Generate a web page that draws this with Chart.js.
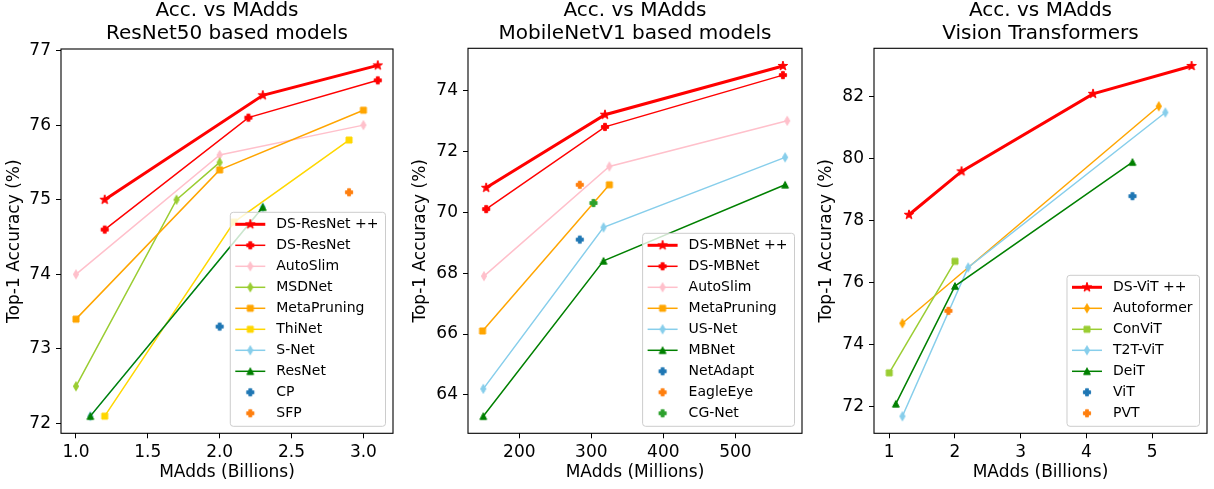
<!DOCTYPE html>
<html>
<head>
<meta charset="utf-8">
<title>Acc. vs MAdds</title>
<script src="https://cdn.jsdelivr.net/npm/chart.js"></script>
<style>
  body { margin: 0; background: #fff; }
  .panel { position: absolute; top: 0; height: 489px; }
  canvas { display: block; }
</style>
</head>
<body>
<div class="panel" style="left:0px"><canvas id="c1" width="400" height="489"></canvas></div>
<div class="panel" style="left:400px"><canvas id="c2" width="410" height="489"></canvas></div>
<div class="panel" style="left:810px"><canvas id="c3" width="404" height="489"></canvas></div>
<script>
// ResNet50 panel
const r50Labels = ['DS-ResNet ++', 'DS-ResNet', 'AutoSlim', 'MSDNet', 'MetaPruning', 'ThiNet', 'S-Net', 'ResNet', 'CP', 'SFP'];
const r50X = [[1.2, 2.3, 3.1], [1.2, 2.2, 3.1], [1.0, 2.0, 3.0], [1.0, 1.7, 2.0], [1.0, 2.0, 3.0],
              [1.2, 2.1, 2.9], [1.1, 2.3], [1.1, 2.3], [2.0], [2.9]];
const r50Y = [[75.0, 76.4, 76.8], [74.6, 76.1, 76.6], [74.0, 75.6, 76.0], [72.5, 75.0, 75.5], [73.4, 75.4, 76.2],
              [72.1, 74.7, 75.8], [72.1, 74.9], [72.1, 74.9], [73.3], [75.1]];
const r50XTicks = [1.0, 1.5, 2.0, 2.5, 3.0];
const r50YTicks = [72, 73, 74, 75, 76, 77];

// MobileNetV1 panel
const mbLabels = ['DS-MBNet ++', 'DS-MBNet', 'AutoSlim', 'MetaPruning', 'US-Net', 'MBNet', 'NetAdapt', 'EagleEye', 'CG-Net'];
const mbX = [[154, 319, 566], [154, 319, 566], [151, 325, 572], [149, 325], [150, 317, 569], [150, 317, 569], [284], [284], [303]];
const mbY = [[70.8, 73.2, 74.8], [70.1, 72.8, 74.5], [67.9, 71.5, 73.0], [66.1, 70.9], [64.2, 69.5, 71.8],
             [63.3, 68.4, 70.9], [69.1], [70.9], [70.3]];
const mbXTicks = [200, 300, 400, 500];
const mbYTicks = [64, 66, 68, 70, 72, 74];

// Vision Transformers panel
const vitLabels = ['DS-ViT ++', 'Autoformer', 'ConViT', 'T2T-ViT', 'DeiT', 'ViT', 'PVT'];
const vitX = [[1.3, 2.1, 4.1, 5.6], [1.2, 5.1], [1.0, 2.0], [1.2, 2.2, 5.2], [1.1, 2.0, 4.7], [4.7], [1.9]];
const vitY = [[78.2, 79.6, 82.1, 83.0], [74.7, 81.7], [73.1, 76.7], [71.7, 76.5, 81.5], [72.1, 75.9, 79.9], [78.8], [75.1]];
const vitXTicks = [1, 2, 3, 4, 5];
const vitYTicks = [72, 74, 76, 78, 80, 82];

// styles
const r50Colors = ['red', 'red', 'pink', 'yellowgreen', 'orange', 'gold', 'skyblue', 'green', '#1f77b4', '#ff7f0e'];
const r50Shapes = ['star', 'plus', 'thin', 'thin', 'square', 'square', 'thin', 'tri', 'plus', 'plus'];
const r50Widths = [3, 1.5, 1.5, 1.5, 1.5, 1.5, 1.5, 1.5, 0, 0];
const mbColors = ['red', 'red', 'pink', 'orange', 'skyblue', 'green', '#1f77b4', '#ff7f0e', '#2ca02c'];
const mbShapes = ['star', 'plus', 'thin', 'square', 'thin', 'tri', 'plus', 'plus', 'plus'];
const mbWidths = [3, 1.5, 1.5, 1.5, 1.5, 1.5, 0, 0, 0];
const vitColors = ['red', 'orange', 'yellowgreen', 'skyblue', 'green', '#1f77b4', '#ff7f0e'];
const vitShapes = ['star', 'thin', 'square', 'thin', 'tri', 'plus', 'plus'];
const vitWidths = [3, 1.5, 1.5, 1.5, 1.5, 0, 0];

Chart.defaults.font.family = '"DejaVu Sans", sans-serif';
Chart.defaults.color = '#000';

function makeMarker(shape, color) {
  const c = document.createElement('canvas');
  c.width = 16; c.height = 16;
  const g = c.getContext('2d');
  g.translate(8, 8);
  g.fillStyle = color;
  g.strokeStyle = color;
  g.lineWidth = 1;
  g.lineJoin = 'round';
  let pts = [];
  if (shape === 'star') {
    for (let i = 0; i < 10; i++) {
      const r = i % 2 ? 1.9 : 5;
      const a = -Math.PI / 2 + i * Math.PI / 5;
      pts.push([r * Math.cos(a), r * Math.sin(a)]);
    }
  } else if (shape === 'plus') {
    const s = 3.6, t = 1.4;
    pts = [[-t, -s], [t, -s], [t, -t], [s, -t], [s, t], [t, t], [t, s], [-t, s], [-t, t], [-s, t], [-s, -t], [-t, -t]];
  } else if (shape === 'thin') {
    pts = [[0, -4.5], [2.6, 0], [0, 4.5], [-2.6, 0]];
  } else if (shape === 'square') {
    pts = [[-3, -3], [3, -3], [3, 3], [-3, 3]];
  } else if (shape === 'tri') {
    pts = [[0, -3.4], [3.4, 3.2], [-3.4, 3.2]];
  }
  g.beginPath();
  pts.forEach(p => g.lineTo(p[0], p[1]));
  g.closePath();
  g.fill();
  g.stroke();
  return c;
}

function buildSets(labels, xs, ys, colors, shapes, widths) {
  return labels.map((label, i) => ({
    label,
    data: xs[i].map((x, j) => ({x, y: ys[i][j]})),
    borderColor: colors[i],
    backgroundColor: colors[i],
    borderWidth: widths[i],
    showLine: widths[i] > 0,
    pointStyle: makeMarker(shapes[i], colors[i]),
    pointRadius: 4,
    pointHoverRadius: 4,
    tension: 0,
    clip: false,
    order: -i
  }));
}

// axes box (all four spines)
const framePlugin = {
  id: 'frame',
  afterDraw(chart) {
    const {ctx, chartArea: a} = chart;
    ctx.save();
    ctx.strokeStyle = '#000';
    ctx.lineWidth = 1.1;
    ctx.strokeRect(a.left, a.top, a.right - a.left, a.bottom - a.top);
    ctx.restore();
  }
};

// matplotlib style legend at lower right inside the axes
const insideLegend = {
  id: 'insideLegend',
  afterDraw(chart) {
    const {ctx, chartArea: a} = chart;
    const sets = chart.data.datasets;
    ctx.save();
    ctx.font = '14px "DejaVu Sans"';
    const maxW = Math.max(...sets.map(d => ctx.measureText(d.label).width));
    const rowH = 21;
    const w = 46 + maxW + 7;
    const h = 12 + (sets.length - 1) * rowH + 13;
    const x0 = a.right - 7.5 - w;
    const y0 = a.bottom - 7 - h;
    ctx.beginPath();
    ctx.roundRect(x0, y0, w, h, 3);
    ctx.fillStyle = 'rgba(255,255,255,0.8)';
    ctx.fill();
    ctx.strokeStyle = '#cccccc';
    ctx.lineWidth = 1;
    ctx.stroke();
    sets.forEach((d, i) => {
      const cy = y0 + 12 + i * rowH;
      const cx = x0 + 20;
      if (d.showLine) {
        ctx.beginPath();
        ctx.moveTo(cx - 15, cy);
        ctx.lineTo(cx + 15, cy);
        ctx.strokeStyle = d.borderColor;
        ctx.lineWidth = d.borderWidth;
        ctx.stroke();
      }
      const m = d.pointStyle;
      ctx.drawImage(m, cx - m.width / 2, cy - m.height / 2);
      ctx.fillStyle = '#000';
      ctx.textBaseline = 'middle';
      ctx.textAlign = 'left';
      ctx.fillText(d.label, x0 + 46, cy);
    });
    ctx.restore();
  }
};

function makePanel(id, p) {
  return new Chart(document.getElementById(id), {
    type: 'line',
    data: { datasets: p.sets },
    options: {
      responsive: false,
      animation: false,
      devicePixelRatio: 1,
      events: [],
      layout: { padding: { left: 0, right: p.padRight, top: 0, bottom: 0 } },
      plugins: {
        legend: { display: false },
        tooltip: { enabled: false },
        title: {
          display: true,
          text: p.title,
          fullSize: false,
          color: '#000',
          font: { size: 20, weight: 'normal', lineHeight: 1.125 },
          padding: { top: 0, bottom: p.titleBottom }
        }
      },
      scales: {
        x: {
          type: 'linear',
          min: p.xRange[0],
          max: p.xRange[1],
          afterFit: s => { s.height = 489 - 433.3; },
          afterBuildTicks: s => { s.ticks = p.xTicks.map(v => ({value: v})); },
          ticks: { callback: p.xFmt, font: { size: 17 }, color: '#000', padding: 4, maxRotation: 0, autoSkip: false },
          grid: { drawOnChartArea: false, drawTicks: true, tickLength: 5, color: '#000', lineWidth: 1 },
          border: { display: false },
          title: { display: true, text: p.xTitle, color: '#000', font: { size: 17 }, padding: { top: 0, bottom: 6 } }
        },
        y: {
          type: 'linear',
          min: p.yRange[0],
          max: p.yRange[1],
          afterFit: s => { s.width = p.yWidth; },
          afterBuildTicks: s => { s.ticks = p.yTicks.map(v => ({value: v})); },
          ticks: { callback: v => String(v), font: { size: 17 }, color: '#000', padding: 5, autoSkip: false },
          grid: { drawOnChartArea: false, drawTicks: true, tickLength: 5, color: '#000', lineWidth: 1 },
          border: { display: false },
          title: { display: true, text: 'Top-1 Accuracy (%)', color: '#000', font: { size: 17 }, padding: { top: p.yTitlePad, bottom: 0 } }
        }
      }
    },
    plugins: [framePlugin, insideLegend]
  });
}

makePanel('c1', {
  sets: buildSets(r50Labels, r50X, r50Y, r50Colors, r50Shapes, r50Widths),
  title: ['Acc. vs MAdds', 'ResNet50 based models'],
  xTitle: 'MAdds (Billions)',
  xRange: [0.896, 3.206], yRange: [71.87, 77.02],
  xTicks: r50XTicks, yTicks: r50YTicks,
  xFmt: v => v.toFixed(1),
  yWidth: 61, yTitlePad: 4.8, titleBottom: 4, padRight: 4
});

makePanel('c2', {
  sets: buildSets(mbLabels, mbX, mbY, mbColors, mbShapes, mbWidths),
  title: ['Acc. vs MAdds', 'MobileNetV1 based models'],
  xTitle: 'MAdds (Millions)',
  xRange: [128.8, 592.5], yRange: [62.74, 75.38],
  xTicks: mbXTicks, yTicks: mbYTicks,
  xFmt: v => String(v),
  yWidth: 68, yTitlePad: 10.8, titleBottom: 3.3, padRight: 8
});

makePanel('c3', {
  sets: buildSets(vitLabels, vitX, vitY, vitColors, vitShapes, vitWidths),
  title: ['Acc. vs MAdds', 'Vision Transformers'],
  xTitle: 'MAdds (Billions)',
  xRange: [0.768, 5.834], yRange: [71.15, 83.57],
  xTicks: vitXTicks, yTicks: vitYTicks,
  xFmt: v => String(v),
  yWidth: 64, yTitlePad: 6.5, titleBottom: 3.3, padRight: 4.7
});
</script>
</body>
</html>
